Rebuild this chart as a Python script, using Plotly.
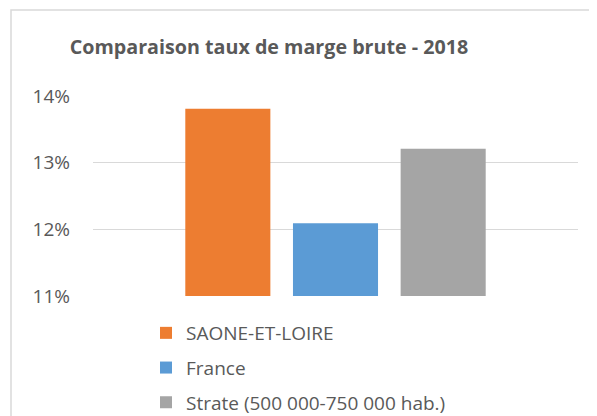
import plotly.graph_objects as go

# Data
category = [""]
series_names = ["SAONE-ET-LOIRE", "France", "Strate (500 000-750 000 hab.)"]
series_values = [0.1381, 0.1209, 0.1321]
series_colors = ["#ED7D31", "#5B9BD5", "#A5A5A5"]
y_ticks = [0.11, 0.12, 0.13, 0.14]
title_text = "Comparaison taux de marge brute - 2018"

OFF = 8  # page body margin offset
W, H = 597, 416
L, T = 93 - OFF, 96 - OFF
R = W - (578 - OFF)
B = H - (296 - OFF)
pw = W - L - R
ph = H - T - B

fig = go.Figure()
for i, (name, val, col) in enumerate(zip(series_names, series_values, series_colors)):
    fig.add_trace(go.Bar(
        x=category, y=[val], name=name, marker=dict(color=col, line=dict(width=0)),
        legendgroup=f"g{i}", hoverinfo="skip",
    ))

def px_x(p):
    return (p - OFF - L) / pw

def px_y(p):
    return (H - B - (p - OFF)) / ph

fig.update_layout(
    width=W, height=H,
    margin=dict(l=L, r=R, t=T, b=B, autoexpand=False),
    paper_bgcolor="white", plot_bgcolor="white",
    barmode="group", bargap=0.334, bargroupgap=0.21,
    font=dict(family="Open Sans", color="#595959", size=19),
    title=dict(text="<b>" + title_text + "</b>", x=(269 - OFF) / W, xanchor="center",
               y=1 - (47 - OFF) / H, yanchor="middle",
               font=dict(family="Open Sans", size=19.7, color="#595959")),
    xaxis=dict(showticklabels=False, showgrid=False, zeroline=False, showline=False),
    yaxis=dict(range=[0.11, 0.14], tickvals=y_ticks, tickformat=".0%",
               showgrid=True, gridcolor="#D9D9D9", gridwidth=1.3, zeroline=False,
               showline=False, ticks="", ticklabelstandoff=22,
               tickfont=dict(family="Open Sans", size=19, color="#595959")),
    legend=dict(orientation="v", x=px_x(146), xanchor="left", y=px_y(314), yanchor="top",
                font=dict(family="Open Sans", size=19, color="#595959"),
                tracegroupgap=7, itemclick=False, itemdoubleclick=False,
                bgcolor="rgba(0,0,0,0)"),
    showlegend=True,
    shapes=[dict(type="rect", xref="paper", yref="paper",
                 x0=px_x(11), x1=px_x(W + 30), y0=px_y(H + 30), y1=px_y(10),
                 line=dict(color="#D9D9D9", width=1.5), fillcolor="rgba(0,0,0,0)",
                 layer="below")],
)

fig.write_html("out.html")
